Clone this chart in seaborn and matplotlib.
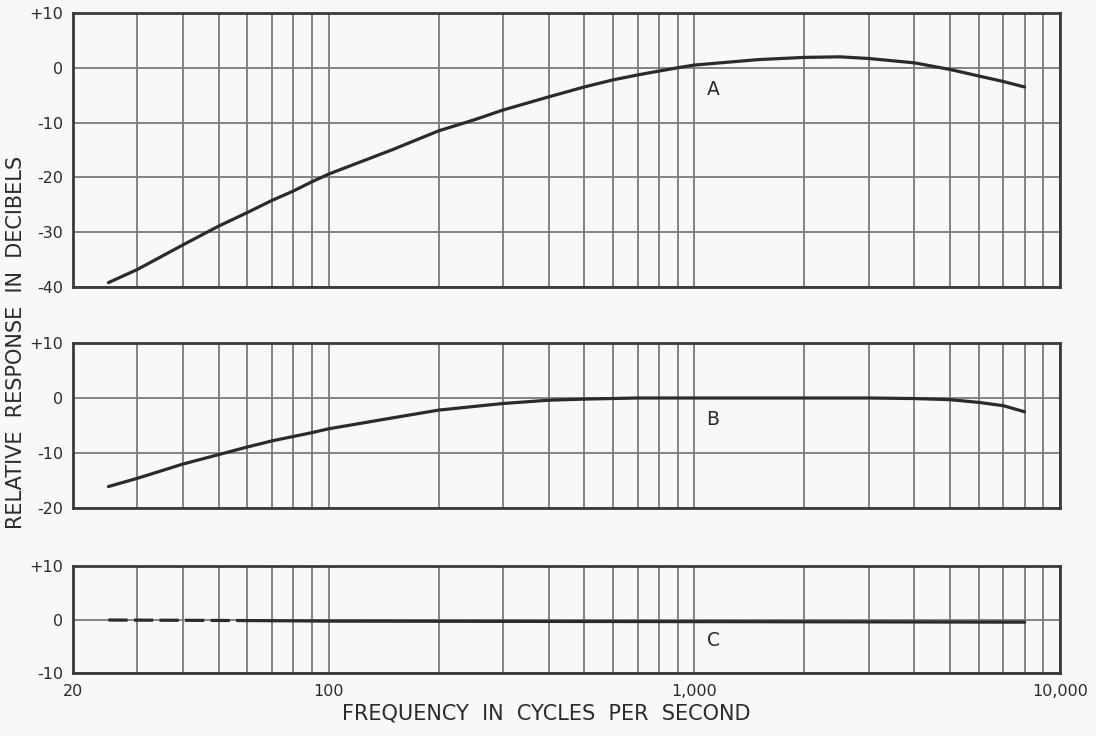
import numpy as np
import pandas as pd
import matplotlib
matplotlib.use("Agg")
import matplotlib.pyplot as plt
import seaborn as sns

# ---- data ----
freq_A = [25, 30, 40, 50, 60, 70, 80, 90, 100, 150, 200, 250, 300, 400, 500, 600, 700,
          800, 900, 1000, 1500, 2000, 2500, 3000, 4000, 5000, 6000, 7000, 8000]
resp_A = [-39.2, -36.8, -32.3, -28.9, -26.4, -24.2, -22.5, -20.8, -19.4, -14.9, -11.5,
          -9.5, -7.7, -5.3, -3.5, -2.2, -1.3, -0.6, 0.0, 0.5, 1.5, 1.9, 2.0, 1.7, 0.9,
          -0.3, -1.5, -2.5, -3.5]

freq_B = [25, 30, 40, 50, 60, 70, 80, 90, 100, 150, 200, 300, 400, 500, 700, 1000,
          2000, 3000, 4000, 5000, 6000, 7000, 8000]
resp_B = [-16.1, -14.6, -12.0, -10.3, -8.9, -7.8, -7.0, -6.3, -5.6, -3.6, -2.2, -1.0,
          -0.4, -0.2, 0.0, 0.0, 0.0, 0.0, -0.1, -0.3, -0.8, -1.4, -2.5]

freq_C_dash = [25, 40, 60]
resp_C_dash = [-0.1, -0.15, -0.2]
freq_C = [60, 100, 1000, 3000, 8000]
resp_C = [-0.2, -0.3, -0.4, -0.45, -0.5]

panel_labels = ["A", "B", "C"]
ylims = [(-40, 10), (-20, 10), (-10, 10)]
ytick_labels = {10: "+10", 0: "0", -10: "-10", -20: "-20", -30: "-30", -40: "-40"}
xtick_vals = [20, 100, 1000, 10000]
xtick_labels = ["20", "100", "1,000", "10,000"]
ylabel = "RELATIVE  RESPONSE  IN  DECIBELS"
xlabel = "FREQUENCY  IN  CYCLES  PER  SECOND"

# ---- style ----
sns.set_style("white")
plt.rcParams["font.family"] = ["DejaVu Sans"]
BG = "#f8f8f8"
INK = "#2b2b2b"
GRID = "#7a7a7a"
SPINE = "#3a3a3a"

fig = plt.figure(figsize=(10.96, 7.36), dpi=100, facecolor=BG)
W, H = 1096.0, 736.0
left_px, right_px = 73, 1060
boxes = [(13, 287), (343, 508), (566, 673)]

grid_x = ([20, 30, 40, 50, 60, 70, 80, 90] + list(range(100, 1000, 100))
          + list(range(1000, 10001, 1000)))

axes = []
for (top, bot), (ylo, yhi) in zip(boxes, ylims):
    ax = fig.add_axes([left_px / W, 1 - bot / H, (right_px - left_px) / W, (bot - top) / H])
    ax.set_facecolor(BG)
    ax.set_xscale("log")
    ax.set_xlim(20, 10000)
    ax.set_ylim(ylo, yhi)
    for gx in grid_x:
        ax.axvline(gx, color=GRID, lw=1.3, zorder=1)
    yt = list(range(ylo, yhi + 1, 10))
    for gy in yt:
        ax.axhline(gy, color=GRID, lw=1.3, zorder=1)
    ax.set_yticks(yt)
    ax.set_yticklabels([ytick_labels[v] for v in yt], fontsize=11.5, color=INK)
    ax.tick_params(axis="both", length=0, pad=7)
    ax.minorticks_off()
    ax.set_xticks([])
    for s in ax.spines.values():
        s.set_visible(True)
        s.set_color(SPINE)
        s.set_linewidth(2.0)
        s.set_zorder(3)
    axes.append(ax)

dfA = pd.DataFrame({"freq": freq_A, "resp": resp_A})
dfB = pd.DataFrame({"freq": freq_B, "resp": resp_B})
dfC1 = pd.DataFrame({"freq": freq_C_dash, "resp": resp_C_dash})
dfC2 = pd.DataFrame({"freq": freq_C, "resp": resp_C})

LW = 2.3
sns.lineplot(data=dfA, x="freq", y="resp", ax=axes[0], color=INK, lw=LW, zorder=4)
sns.lineplot(data=dfB, x="freq", y="resp", ax=axes[1], color=INK, lw=LW, zorder=4)
sns.lineplot(data=dfC1, x="freq", y="resp", ax=axes[2], color=INK, lw=LW, zorder=4,
             linestyle=(0, (6, 2)))
sns.lineplot(data=dfC2, x="freq", y="resp", ax=axes[2], color=INK, lw=LW, zorder=4)

for ax, lab in zip(axes, panel_labels):
    ax.set_xlabel("")
    ax.set_ylabel("")
    ax.set_xticks([])
    ax.minorticks_off()
    ax.text(1080, -4, lab, fontsize=13.5, color=INK, ha="left", va="center", zorder=5)

axes[2].set_xticks(xtick_vals)
axes[2].set_xticklabels(xtick_labels, fontsize=11.5, color=INK)
axes[2].tick_params(axis="x", length=0, pad=8)
axes[2].minorticks_off()

fig.text(16.5 / W, 1 - 342 / H, ylabel, rotation=90, ha="center", va="center",
         fontsize=15, color=INK)
fig.text(546 / W, 1 - 713 / H, xlabel, ha="center", va="center",
         fontsize=15, color=INK)

fig.savefig("out.png", dpi=100, facecolor=BG)
